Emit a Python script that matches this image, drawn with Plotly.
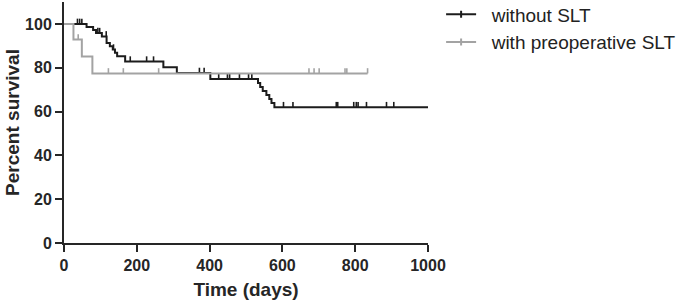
import plotly.graph_objects as go

# ---- data (Kaplan-Meier step curves) ----
# without SLT: event times (days) and survival (%) after each step
t_without = [0, 62, 80, 88, 104, 117, 126, 134, 140, 146, 168, 273, 310, 402, 533, 539, 546, 556, 564, 570, 578]
s_without = [100, 98.6, 97.2, 95.8, 94.3, 91.3, 89.8, 88.3, 86.8, 85.2, 82.8, 80.2, 77.6, 74.9, 73.0, 71.2, 69.4, 67.5, 65.7, 63.9, 62.0]
end_without = 1000
censor_without = [37, 43, 49, 93, 98, 116, 136, 182, 227, 246, 372, 385, 425, 449, 455, 482, 507,
                  516, 603, 629, 748, 752, 796, 803, 808, 831, 886, 906]

# with preoperative SLT
t_with = [0, 26, 49, 78]
s_with = [100, 92.9, 85.1, 77.4]
end_with = 834
censor_with = [39, 122, 163, 260, 673, 687, 701, 772, 777, 834]

names = ["without SLT", "with preoperative SLT"]
x_ticks = [0, 200, 400, 600, 800, 1000]
y_ticks = [0, 20, 40, 60, 80, 100]

# ---- style ----
BLACK = "#1c1c1c"
GRAY = "#a3a3a3"
AXIS = "#262626"
TICK_H = 2.4   # censor tick height in % units
FONT = "Liberation Sans, Arial, sans-serif"


def level_at(times, surv, t):
    val = surv[0]
    for ti, si in zip(times, surv):
        if ti <= t:
            val = si
    return val


fig = go.Figure()

series = [
    (t_without, s_without, end_without, censor_without, BLACK, names[0]),
    (t_with, s_with, end_with, censor_with, GRAY, names[1]),
]

for times, surv, end, cens, col, name in series:
    fig.add_trace(go.Scatter(
        x=times + [end], y=surv + [surv[-1]],
        mode="lines", line=dict(color=col, width=2, shape="hv"),
        showlegend=False, hoverinfo="skip",
    ))
    cy = [level_at(times, surv, c) for c in cens]
    fig.add_trace(go.Scatter(
        x=cens, y=cy, mode="markers",
        marker=dict(size=1, color="rgba(0,0,0,0)"),
        error_y=dict(type="data", symmetric=False, array=[TICK_H] * len(cens),
                     arrayminus=[0] * len(cens), width=0, thickness=1.6, color=col),
        showlegend=False, hoverinfo="skip",
    ))
    # legend entry
    fig.add_trace(go.Scatter(
        x=[None], y=[None], mode="lines+markers", name="\u00a0\u00a0" + name,
        line=dict(color=col, width=2),
        marker=dict(symbol="line-ns", size=5, line=dict(color=col, width=2)),
    ))

fig.update_layout(
    width=685, height=301,
    margin=dict(l=64, r=257, t=2, b=58, autoexpand=False),
    paper_bgcolor="white", plot_bgcolor="white",
    font=dict(family=FONT, color=AXIS),
    legend=dict(x=1.036, y=1.027, xanchor="left", yanchor="top",
                font=dict(size=19, family=FONT, color="#222222"),
                bgcolor="rgba(0,0,0,0)", tracegroupgap=0, itemwidth=30),
)

fig.update_xaxes(
    range=[0, 1000], tickvals=x_ticks, ticktext=[str(v) for v in x_ticks],
    showgrid=False, zeroline=False, automargin=False,
    showline=True, linecolor=AXIS, linewidth=2,
    ticks="outside", ticklen=7, tickwidth=2, tickcolor=AXIS,
    tickfont=dict(size=16, family=FONT, color="#262626", weight="bold"),
    title=dict(text="<b>Time (days)</b>", font=dict(size=19, family=FONT), standoff=9),
)
fig.update_yaxes(
    range=[0, 110], tickvals=y_ticks, ticktext=[str(v) for v in y_ticks],
    showgrid=False, zeroline=False, automargin=False,
    showline=True, linecolor=AXIS, linewidth=2,
    ticks="outside", ticklen=7, tickwidth=2, tickcolor=AXIS,
    tickfont=dict(size=16, family=FONT, color="#262626", weight="bold"),
    title=dict(text="<b>Percent survival</b>", font=dict(size=19, family=FONT), standoff=0),
)

fig.write_html("out.html", config={"displayModeBar": False},
               post_script="document.body.style.margin='0';")
